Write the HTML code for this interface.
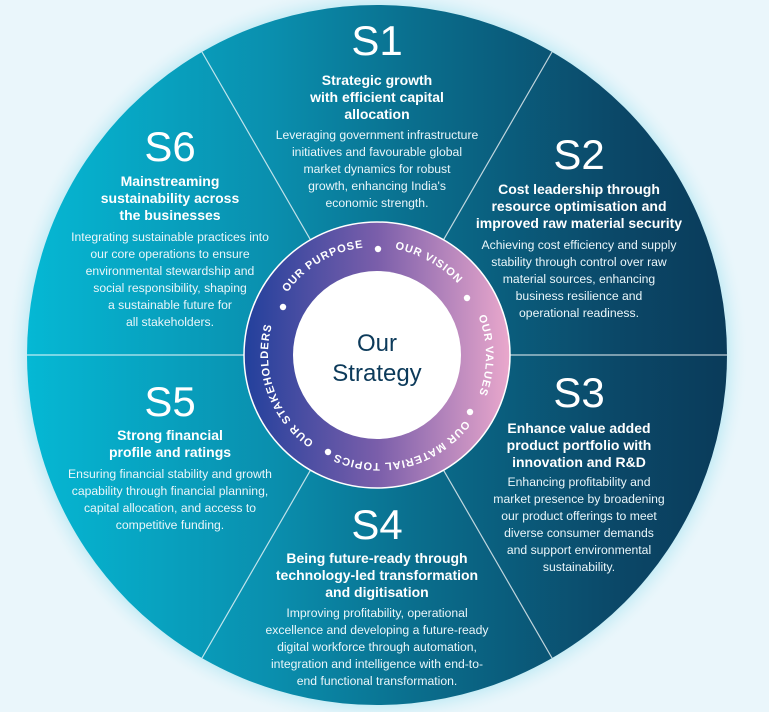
<!DOCTYPE html>
<html><head><meta charset="utf-8"><style>
html,body{margin:0;padding:0;background:#eaf6fb;}
svg{display:block}
.s{font-family:"Liberation Sans",sans-serif;font-size:42px;fill:#fff;text-anchor:middle}
.t{font-family:"Liberation Sans",sans-serif;font-size:14px;font-weight:bold;fill:#fff;text-anchor:middle}
.b{font-family:"Liberation Sans",sans-serif;font-size:12.2px;fill:#eaf6fa;text-anchor:middle}
.r{font-family:"Liberation Sans",sans-serif;font-size:11px;font-weight:bold;fill:#fff;letter-spacing:0.9px}
</style></head><body>
<svg width="769" height="712" viewBox="0 0 769 712" xmlns="http://www.w3.org/2000/svg">
<defs>
<linearGradient id="g" x1="0" y1="0" x2="1" y2="0">
<stop offset="0" stop-color="#05b8d4"/><stop offset="0.35" stop-color="#0a8fae"/>
<stop offset="0.55" stop-color="#0a6f8e"/><stop offset="0.85" stop-color="#0b4767"/>
<stop offset="1" stop-color="#0a3b5a"/></linearGradient>
<linearGradient id="rg" x1="0" y1="0" x2="1" y2="0">
<stop offset="0" stop-color="#22409c"/><stop offset="0.5" stop-color="#7a5eaa"/>
<stop offset="1" stop-color="#eaa8cc"/></linearGradient>
<radialGradient id="glow" cx="0.5" cy="0.5" r="0.5">
<stop offset="0.9" stop-color="#7fd8ea" stop-opacity="0.9"/><stop offset="1" stop-color="#eaf6fb" stop-opacity="0"/></radialGradient>
<path id="rp" d="M 328.4 450.3 A 107 107 0 1 1 425.6 259.7 A 107 107 0 1 1 328.4 450.3"/>
</defs>
<circle cx="377" cy="355" r="372" fill="url(#glow)"/>
<circle cx="377" cy="355" r="350" fill="url(#g)"/>
<g stroke="#fff" stroke-opacity="0.75" stroke-width="1.2">
<line x1="27" y1="355" x2="727" y2="355"/>
<line x1="377" y1="355" x2="202" y2="52"/>
<line x1="377" y1="355" x2="552" y2="52"/>
<line x1="377" y1="355" x2="202" y2="658"/>
<line x1="377" y1="355" x2="552" y2="658"/>
</g>
<circle cx="377" cy="355" r="133" fill="url(#rg)" stroke="#fff" stroke-width="1.5"/>
<circle cx="377" cy="355" r="84" fill="#fff"/>
<text x="377" y="351" font-family="Liberation Sans,sans-serif" font-size="24" fill="#0c3a5a" text-anchor="middle">Our</text>
<text x="377" y="381" font-family="Liberation Sans,sans-serif" font-size="24" fill="#0c3a5a" text-anchor="middle">Strategy</text>
<g class="r">
<text><textPath href="#rp" startOffset="12.2%" text-anchor="middle">OUR STAKEHOLDERS</textPath></text>
<text><textPath href="#rp" startOffset="33.9%" text-anchor="middle">OUR PURPOSE</textPath></text>
<text><textPath href="#rp" startOffset="50.6%" text-anchor="middle">OUR VISION</textPath></text>
<text><textPath href="#rp" startOffset="67.5%" text-anchor="middle">OUR VALUES</textPath></text>
<text><textPath href="#rp" startOffset="88.3%" text-anchor="middle">OUR MATERIAL TOPICS</textPath></text>
</g>
<g fill="#fff">
<circle cx="283" cy="307" r="3.2"/><circle cx="378" cy="249" r="3.2"/><circle cx="467" cy="298" r="3.2"/>
<circle cx="470" cy="412" r="3.2"/><circle cx="328" cy="452" r="3.2"/>
</g>
<!-- S1 -->
<text class="s" x="377" y="55">S1</text>
<text class="t" x="377" y="85">Strategic growth</text>
<text class="t" x="377" y="102">with efficient capital</text>
<text class="t" x="377" y="119">allocation</text>
<text class="b" x="377" y="139">Leveraging government infrastructure</text>
<text class="b" x="377" y="156">initiatives and favourable global</text>
<text class="b" x="377" y="173">market dynamics for robust</text>
<text class="b" x="377" y="190">growth, enhancing India's</text>
<text class="b" x="377" y="207">economic strength.</text>
<!-- S6 -->
<text class="s" x="170" y="161">S6</text>
<text class="t" x="170" y="186">Mainstreaming</text>
<text class="t" x="170" y="203">sustainability across</text>
<text class="t" x="170" y="220">the businesses</text>
<text class="b" x="170" y="241">Integrating sustainable practices into</text>
<text class="b" x="170" y="258">our core operations to ensure</text>
<text class="b" x="170" y="275">environmental stewardship and</text>
<text class="b" x="170" y="292">social responsibility, shaping</text>
<text class="b" x="170" y="309">a sustainable future for</text>
<text class="b" x="170" y="326">all stakeholders.</text>
<!-- S2 -->
<text class="s" x="579" y="169">S2</text>
<text class="t" x="579" y="194">Cost leadership through</text>
<text class="t" x="579" y="211">resource optimisation and</text>
<text class="t" x="579" y="228">improved raw material security</text>
<text class="b" x="579" y="249">Achieving cost efficiency and supply</text>
<text class="b" x="579" y="266">stability through control over raw</text>
<text class="b" x="579" y="283">material sources, enhancing</text>
<text class="b" x="579" y="300">business resilience and</text>
<text class="b" x="579" y="317">operational readiness.</text>
<!-- S5 -->
<text class="s" x="170" y="416">S5</text>
<text class="t" x="170" y="440">Strong financial</text>
<text class="t" x="170" y="457">profile and ratings</text>
<text class="b" x="170" y="478">Ensuring financial stability and growth</text>
<text class="b" x="170" y="495">capability through financial planning,</text>
<text class="b" x="170" y="512">capital allocation, and access to</text>
<text class="b" x="170" y="529">competitive funding.</text>
<!-- S3 -->
<text class="s" x="579" y="407">S3</text>
<text class="t" x="579" y="433">Enhance value added</text>
<text class="t" x="579" y="450">product portfolio with</text>
<text class="t" x="579" y="467">innovation and R&amp;D</text>
<text class="b" x="579" y="486">Enhancing profitability and</text>
<text class="b" x="579" y="503">market presence by broadening</text>
<text class="b" x="579" y="520">our product offerings to meet</text>
<text class="b" x="579" y="537">diverse consumer demands</text>
<text class="b" x="579" y="554">and support environmental</text>
<text class="b" x="579" y="571">sustainability.</text>
<!-- S4 -->
<text class="s" x="377" y="539">S4</text>
<text class="t" x="377" y="563">Being future-ready through</text>
<text class="t" x="377" y="580">technology-led transformation</text>
<text class="t" x="377" y="597">and digitisation</text>
<text class="b" x="377" y="617">Improving profitability, operational</text>
<text class="b" x="377" y="634">excellence and developing a future-ready</text>
<text class="b" x="377" y="651">digital workforce through automation,</text>
<text class="b" x="377" y="668">integration and intelligence with end-to-</text>
<text class="b" x="377" y="685">end functional transformation.</text>
</svg>
</body></html>
